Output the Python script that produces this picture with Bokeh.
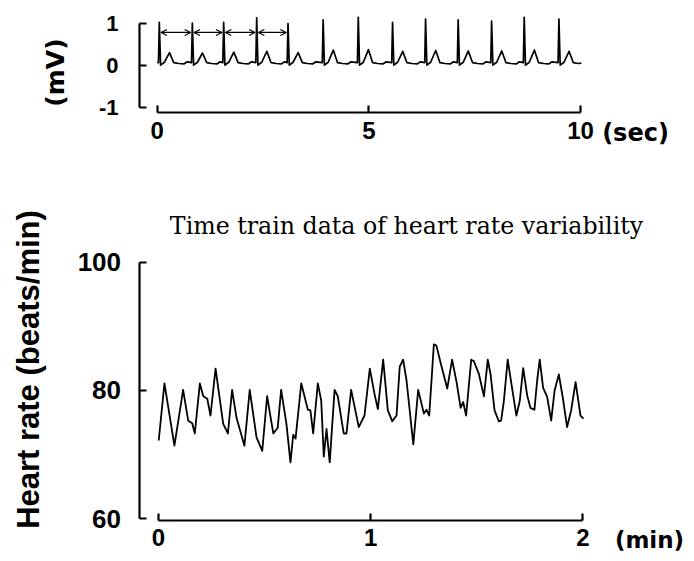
import math
from bokeh.plotting import figure
from bokeh.models import FixedTicker, Label, Arrow, OpenHead, Range1d
from bokeh.layouts import column
from bokeh.embed import file_html
from bokeh.resources import INLINE

# ---------------- data ----------------
# ECG trace (seconds, mV)
ecg_time_s = [0.00,
    0.03, 0.05, 0.08, 0.17, 0.29, 0.39, 0.51, 0.63, 0.71,
    0.81, 0.83, 0.86, 0.95, 1.07, 1.17, 1.29, 1.41, 1.49,
    1.55, 1.57, 1.60, 1.69, 1.81, 1.91, 2.03, 2.15, 2.23,
    2.33, 2.35, 2.38, 2.47, 2.59, 2.69, 2.81, 2.93, 3.01,
    3.07, 3.09, 3.12, 3.21, 3.33, 3.43, 3.55, 3.67, 3.75,
    3.90, 3.92, 3.95, 4.04, 4.16, 4.26, 4.38, 4.50, 4.58,
    4.73, 4.75, 4.78, 4.87, 4.99, 5.09, 5.21, 5.33, 5.41,
    5.54, 5.56, 5.59, 5.68, 5.80, 5.90, 6.02, 6.14, 6.22,
    6.32, 6.34, 6.37, 6.46, 6.58, 6.68, 6.80, 6.92, 7.00,
    7.09, 7.11, 7.14, 7.23, 7.35, 7.45, 7.57, 7.69, 7.77,
    7.88, 7.90, 7.93, 8.02, 8.14, 8.24, 8.36, 8.48, 8.56,
    8.65, 8.67, 8.70, 8.79, 8.91, 9.01, 9.13, 9.25, 9.33,
    9.47, 9.49, 9.52, 9.61, 9.73, 9.83, 9.95, 10.02]
ecg_mv = [0.07,
    0.06, 1.02, 0.00, 0.07, 0.30, 0.06, 0.04, 0.03, 0.08,
    0.06, 1.00, 0.00, 0.07, 0.29, 0.06, 0.04, 0.03, 0.08,
    0.06, 1.02, 0.00, 0.07, 0.31, 0.06, 0.04, 0.03, 0.08,
    0.06, 1.13, 0.00, 0.07, 0.33, 0.06, 0.04, 0.03, 0.08,
    0.06, 0.99, 0.00, 0.07, 0.30, 0.06, 0.04, 0.03, 0.08,
    0.06, 1.08, 0.00, 0.07, 0.36, 0.06, 0.04, 0.03, 0.08,
    0.06, 1.14, 0.00, 0.07, 0.37, 0.06, 0.04, 0.03, 0.08,
    0.06, 1.02, 0.00, 0.07, 0.33, 0.06, 0.04, 0.03, 0.08,
    0.06, 1.10, 0.00, 0.07, 0.35, 0.06, 0.04, 0.03, 0.08,
    0.06, 1.08, 0.00, 0.07, 0.34, 0.06, 0.04, 0.03, 0.08,
    0.06, 1.05, 0.00, 0.07, 0.34, 0.06, 0.04, 0.03, 0.08,
    0.06, 1.14, 0.00, 0.07, 0.36, 0.06, 0.04, 0.03, 0.08,
    0.06, 1.10, 0.00, 0.07, 0.33, 0.06, 0.04, 0.05]

# R-R intervals marked with double arrows (R peak times, s)
marked_r_peaks_s = [0.05, 0.83, 1.57, 2.35, 3.09]
arrow_level_mv = 0.78

# Heart-rate time series (minutes, beats/min)
hr_time_min = [0.001, 0.028, 0.075, 0.116, 0.140, 0.159, 0.171, 0.195, 0.211, 0.230,
    0.245, 0.269, 0.305, 0.327, 0.347, 0.368, 0.405, 0.430, 0.462, 0.489,
    0.512, 0.541, 0.562, 0.578, 0.603, 0.622, 0.635, 0.646, 0.673, 0.704,
    0.716, 0.729, 0.751, 0.767, 0.779, 0.792, 0.807, 0.830, 0.845, 0.873,
    0.886, 0.908, 0.944, 0.971, 0.996, 1.018, 1.034, 1.059, 1.081, 1.102,
    1.122, 1.137, 1.153, 1.169, 1.201, 1.224, 1.251, 1.263, 1.276, 1.298,
    1.310, 1.329, 1.361, 1.384, 1.405, 1.424, 1.436, 1.450, 1.474, 1.486,
    1.510, 1.534, 1.552, 1.565, 1.584, 1.604, 1.615, 1.628, 1.646, 1.667,
    1.687, 1.703, 1.719, 1.738, 1.753, 1.772, 1.785, 1.797, 1.813, 1.832,
    1.851, 1.867, 1.887, 1.908, 1.926, 1.945, 1.966, 1.989, 2.003]
hr_bpm = [72.2, 81.1, 71.4, 80.1, 75.3, 74.9, 73.3, 81.1, 79.1, 78.7,
    76.1, 83.4, 74.8, 73.3, 80.1, 75.7, 71.4, 80.1, 72.7, 70.6,
    79.1, 73.3, 74.2, 80.1, 74.8, 68.8, 73.1, 72.5, 81.1, 77.0,
    76.9, 73.3, 81.1, 78.4, 69.7, 74.0, 68.8, 80.1, 79.1, 73.3,
    73.3, 80.1, 74.3, 76.1, 83.4, 79.5, 77.1, 84.8, 76.9, 75.2,
    76.1, 83.7, 84.8, 81.6, 71.6, 80.1, 76.4, 77.0, 76.1, 87.2,
    87.0, 84.4, 80.3, 84.8, 81.3, 77.3, 78.2, 76.1, 84.8, 84.6,
    82.6, 79.1, 84.8, 82.6, 76.9, 75.2, 75.3, 78.4, 84.8, 80.3,
    76.1, 78.4, 83.5, 79.2, 77.3, 77.0, 81.6, 84.8, 80.4, 79.0,
    75.3, 80.0, 82.5, 78.4, 74.3, 76.9, 81.3, 76.1, 75.6]

# ticks and labels
ecg_x_ticks = [0, 5, 10]
ecg_x_labels = {0: "0", 5: "5", 10: "10"}
ecg_y_ticks = [-1, 0, 1]
ecg_y_labels = {-1: "-1", 0: "0", 1: "1"}
hr_x_ticks = [0, 1, 2]
hr_x_labels = {0: "0", 1: "1", 2: "2"}
hr_y_ticks = [60, 80, 100]
hr_y_labels = {60: "60", 80: "80", 100: "100"}

ecg_x_unit = "(sec)"
ecg_y_title = "(mV)"
hr_x_unit = "(min)"
hr_y_title = "Heart rate (beats/min)"
hr_title = "Time train data of heart rate variability"

SANS = "Liberation Sans"
WIDE = "DejaVu Sans"


def style_axis(ax, ticks, labels, bounds, loc, size, standoff):
    ax.ticker = FixedTicker(ticks=ticks)
    ax.major_label_overrides = labels
    ax.bounds = bounds
    ax.fixed_location = loc
    ax.axis_line_color = "black"
    ax.axis_line_width = 2.2
    ax.major_tick_line_color = "black"
    ax.major_tick_line_width = 2.2
    ax.major_tick_in = 7
    ax.major_tick_out = 0
    ax.minor_tick_in = 0
    ax.minor_tick_out = 0
    ax.major_label_text_font = SANS
    ax.major_label_text_font_style = "bold"
    ax.major_label_text_font_size = f"{size}px"
    ax.major_label_text_color = "black"
    ax.major_label_standoff = standoff


def bare(p):
    p.grid.visible = False
    p.outline_line_color = None
    p.background_fill_color = "white"
    p.border_fill_color = "white"


def text(p, x, y, s, font, size, style="bold", angle=0.0):
    p.add_layout(Label(x=x, y=y, text=s, angle=angle, text_align="center",
                       text_baseline="middle", text_font=font, text_font_style=style,
                       text_font_size=f"{size}px", text_color="black"))


# ---------------- ECG panel ----------------
p1 = figure(width=686, height=158, output_backend="svg", toolbar_location=None,
            x_range=Range1d(-3.7019, 12.504), y_range=Range1d(-2.2214, 1.5405),
            min_border=0, title=None)
bare(p1)
style_axis(p1.xaxis[0], ecg_x_ticks, ecg_x_labels, (0, 10), -1.1262, 24, 9)
style_axis(p1.yaxis[0], ecg_y_ticks, ecg_y_labels, (-1, 1), -0.4181, 22, 21)

p1.line(ecg_time_s, ecg_mv, line_color="black", line_width=1.7, line_join="round")

for a, b in zip(marked_r_peaks_s[:-1], marked_r_peaks_s[1:]):
    p1.add_layout(Arrow(x_start=a + 0.04, x_end=b - 0.04,
                        y_start=arrow_level_mv, y_end=arrow_level_mv,
                        line_color="black", line_width=1.2,
                        start=OpenHead(size=6, line_width=1.2, line_color="black"),
                        end=OpenHead(size=6, line_width=1.2, line_color="black")))

text(p1, 11.299, -1.626, ecg_x_unit, WIDE, 24)
text(p1, -2.4026, -0.174, ecg_y_title, WIDE, 25, angle=math.pi / 2)

# ---------------- heart-rate panel ----------------
p2 = figure(width=686, height=401, output_backend="svg", toolbar_location=None,
            x_range=Range1d(-0.7448, 2.4888), y_range=Range1d(53.655, 116.165),
            min_border=0, title=None)
bare(p2)
style_axis(p2.xaxis[0], hr_x_ticks, hr_x_labels, (0, 2), 59.735, 24, 9)
style_axis(p2.yaxis[0], hr_y_ticks, hr_y_labels, (60, 100), -0.0919, 26, 18)

p2.line(hr_time_min, hr_bpm, line_color="black", line_width=1.8, line_join="round")

text(p2, 1.169, 105.565, hr_title, "DejaVu Serif", 23.7, style="normal")
text(p2, 2.3144, 56.62, hr_x_unit, WIDE, 23)
text(p2, -0.6128, 83.27, hr_y_title, SANS, 31, angle=math.pi / 2)

layout = column(p1, p2, spacing=0)
open("out.html", "w").write(file_html(layout, INLINE))
